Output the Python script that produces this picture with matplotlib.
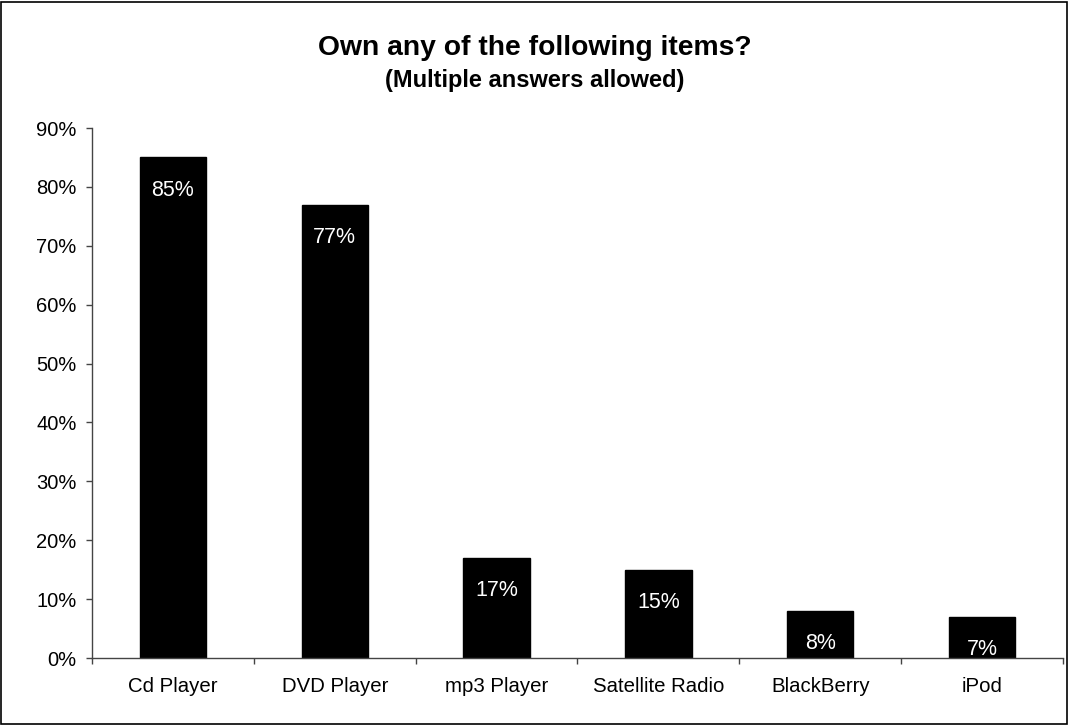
import matplotlib
matplotlib.use("Agg")
import matplotlib.pyplot as plt
from matplotlib.patches import Rectangle
from matplotlib.ticker import PercentFormatter, FixedLocator
import numpy as np

categories = ["Cd Player", "DVD Player", "mp3 Player", "Satellite Radio", "BlackBerry", "iPod"]
values = [85, 77, 17, 15, 8, 7]
yticks = [0, 10, 20, 30, 40, 50, 60, 70, 80, 90]

plt.rcParams['font.family'] = ['Liberation Sans', 'DejaVu Sans']

fig = plt.figure(figsize=(10.70, 7.26), dpi=100)
ax = fig.add_axes([92/1070, 68/726, (1063-92)/1070, (658-128)/726])

x = np.arange(len(categories))
bars = ax.bar(x, values, width=0.41, color='black', edgecolor='black')

for xi, v in zip(x, values):
    ax.annotate(f"{v}%", xy=(xi, v), xytext=(0, -23.5), textcoords='offset points',
                ha='center', va='center', color='white', fontsize=15.5)

ax.set_xlim(-0.5, len(categories) - 0.5)
ax.set_ylim(0, 90)
ax.set_yticks(yticks)
ax.yaxis.set_major_formatter(PercentFormatter(decimals=0))
ax.set_xticks(x)
ax.set_xticklabels(categories, fontsize=14.7)
ax.xaxis.set_minor_locator(FixedLocator(np.arange(-0.5, len(categories) + 0.5, 1.0)))
ax.tick_params(axis='x', which='major', length=0, pad=14)
ax.tick_params(axis='x', which='minor', length=4.5, width=1, color='#444444', direction='out')
ax.tick_params(axis='y', length=4.5, width=1, color='#444444', labelsize=14.5, pad=6.5, direction='out')

for s in ['top', 'right']:
    ax.spines[s].set_visible(False)
for s in ['left', 'bottom']:
    ax.spines[s].set_color('#444444')
    ax.spines[s].set_linewidth(1)

fig.text(535/1070, 1 - 48/726, "Own any of the following items?", ha='center', va='center',
         fontsize=20.3, fontweight='bold')
fig.text(535/1070, 1 - 81/726, "(Multiple answers allowed)", ha='center', va='center',
         fontsize=17, fontweight='bold')

fig.patches.append(Rectangle((1/1070, 2/726), 1066/1070, 722/726, transform=fig.transFigure,
                             fill=False, edgecolor='black', linewidth=1.2))

fig.savefig("out.png", dpi=100)
